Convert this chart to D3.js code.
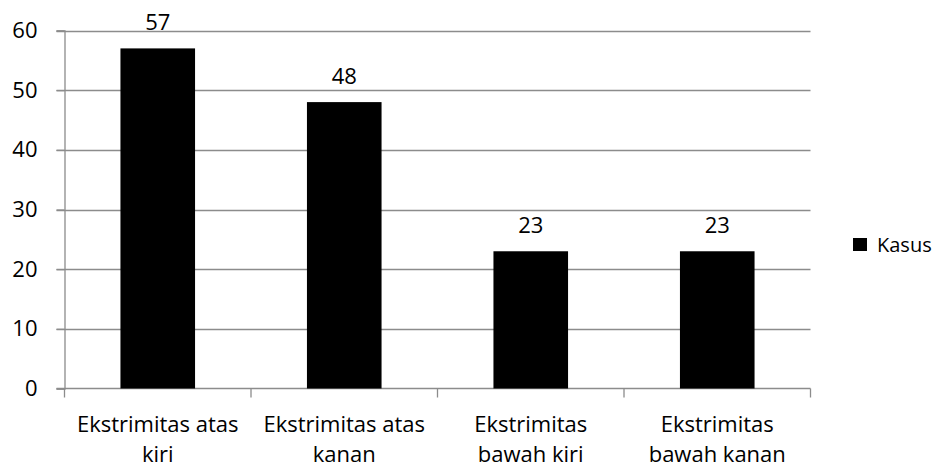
<!DOCTYPE html>
<html><head><meta charset="utf-8">
<script src="https://cdn.jsdelivr.net/npm/d3@7"></script>
<style>body{margin:0;background:#fff}svg{display:block}text{font-family:"Open Sans",sans-serif;fill:#000}</style>
</head><body>
<svg id="c" width="938" height="466"></svg>
<script>
const categories = [["Ekstrimitas atas","kiri"],["Ekstrimitas atas","kanan"],["Ekstrimitas","bawah kiri"],["Ekstrimitas","bawah kanan"]];
const values = [57,48,23,23];
const yTicks = [0,10,20,30,40,50,60];
const seriesName = "Kasus";

const svg = d3.select("#c");
const L=64.5,R=810.5,T=30.5,B=388.5;
const x = d3.scaleBand().domain(d3.range(categories.length)).range([L,R]).padding(0);
const y = d3.scaleLinear().domain([0,60]).range([B,T]);
const grid="#8c8c8c", fs=22;

// gridlines
svg.append("g").selectAll("line").data(yTicks.filter(d=>d>0)).join("line")
  .attr("x1",L-8).attr("x2",R).attr("y1",d=>Math.round(y(d))+0.5).attr("y2",d=>Math.round(y(d))+0.5)
  .attr("stroke",grid).attr("stroke-width",1.3);
// y axis
const ya = svg.append("g").attr("transform",`translate(${L},0)`)
  .call(d3.axisLeft(y).tickValues(yTicks).tickSize(8).tickPadding(19));
ya.select(".domain").attr("stroke",grid).attr("stroke-width",1.3);
ya.selectAll(".tick line").attr("stroke",grid).attr("stroke-width",1.3);
ya.selectAll("text").attr("font-size",fs).attr("font-family","Open Sans").attr("fill","#000");
// x axis
const xa = svg.append("g").attr("transform",`translate(0,${B})`);
xa.append("line").attr("x1",L-8).attr("x2",R).attr("stroke",grid).attr("stroke-width",1.3);
const bounds = d3.range(categories.length+1).map(i=> i<categories.length? x(i): x(i-1)+x.bandwidth());
xa.selectAll("line.t").data(bounds).join("line").attr("class","t")
  .attr("x1",d=>d).attr("x2",d=>d).attr("y1",0).attr("y2",9).attr("stroke",grid).attr("stroke-width",1.3);
const lab = xa.selectAll("text.c").data(categories).join("text").attr("class","c")
  .attr("text-anchor","middle").attr("font-size",fs)
  .attr("transform",(d,i)=>`translate(${x(i)+x.bandwidth()/2},0)`);
lab.selectAll("tspan").data(d=>d).join("tspan").attr("x",0).attr("y",(d,j)=>43+j*30).text(d=>d);

// bars
const bw = x.bandwidth()*0.4;
svg.append("g").selectAll("rect").data(values).join("rect")
  .attr("x",(d,i)=>x(i)+x.bandwidth()/2-bw/2).attr("width",bw)
  .attr("y",d=>y(d)).attr("height",d=>B-y(d)).attr("fill","#000");
svg.append("g").selectAll("text").data(values).join("text")
  .attr("x",(d,i)=>x(i)+x.bandwidth()/2).attr("y",d=>y(d)-18)
  .attr("text-anchor","middle").attr("font-size",fs).text(d=>d);

// legend
const lg = svg.append("g").attr("transform","translate(853,238)");
lg.append("rect").attr("width",14).attr("height",13).attr("fill","#000");
lg.append("text").attr("x",24).attr("y",14).attr("font-size",fs-2).text(seriesName);
</script>
</body></html>
